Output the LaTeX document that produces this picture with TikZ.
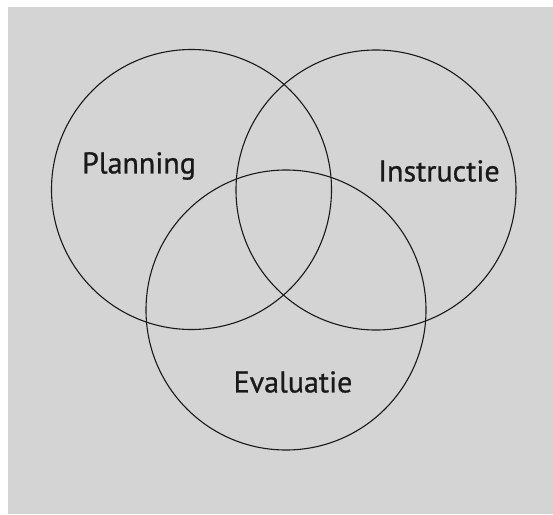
\documentclass[tikz,border=0pt]{standalone}
\usepackage{fontspec}
\setmainfont{PT Sans}
\newfontfamily\labelfont[AutoFakeBold=0.8]{PT Sans}
\usepackage{xcolor}
\usepackage{tikz}
\definecolor{bggray}{HTML}{D4D4D4}
\tikzstyle{ring} = [circle, draw=black!90, line width=1.1pt, minimum size=280pt, inner sep=0pt]
\tikzstyle{label} = [font=\labelfont\bfseries\fontsize{30}{34}\selectfont, text=black!90, inner sep=0pt]

\begin{document}
\begin{tikzpicture}[x=1pt, y=-1pt]
\useasboundingbox (0,0) rectangle (553,514);
\fill [bggray] (8,7) rectangle (553,514);

\node (plan) [ring] at (191.5,189.5) {};
\node (instr) [ring] at (376,190) {};
\node (eval) [ring] at (286,310) {};

\node (lplan) [label] at (139,166) {Planning};
\node (linstr) [label] at (439,171) {Instructie};
\node (leval) [label] at (293,382) {Evaluatie};

\end{tikzpicture}
\end{document}
